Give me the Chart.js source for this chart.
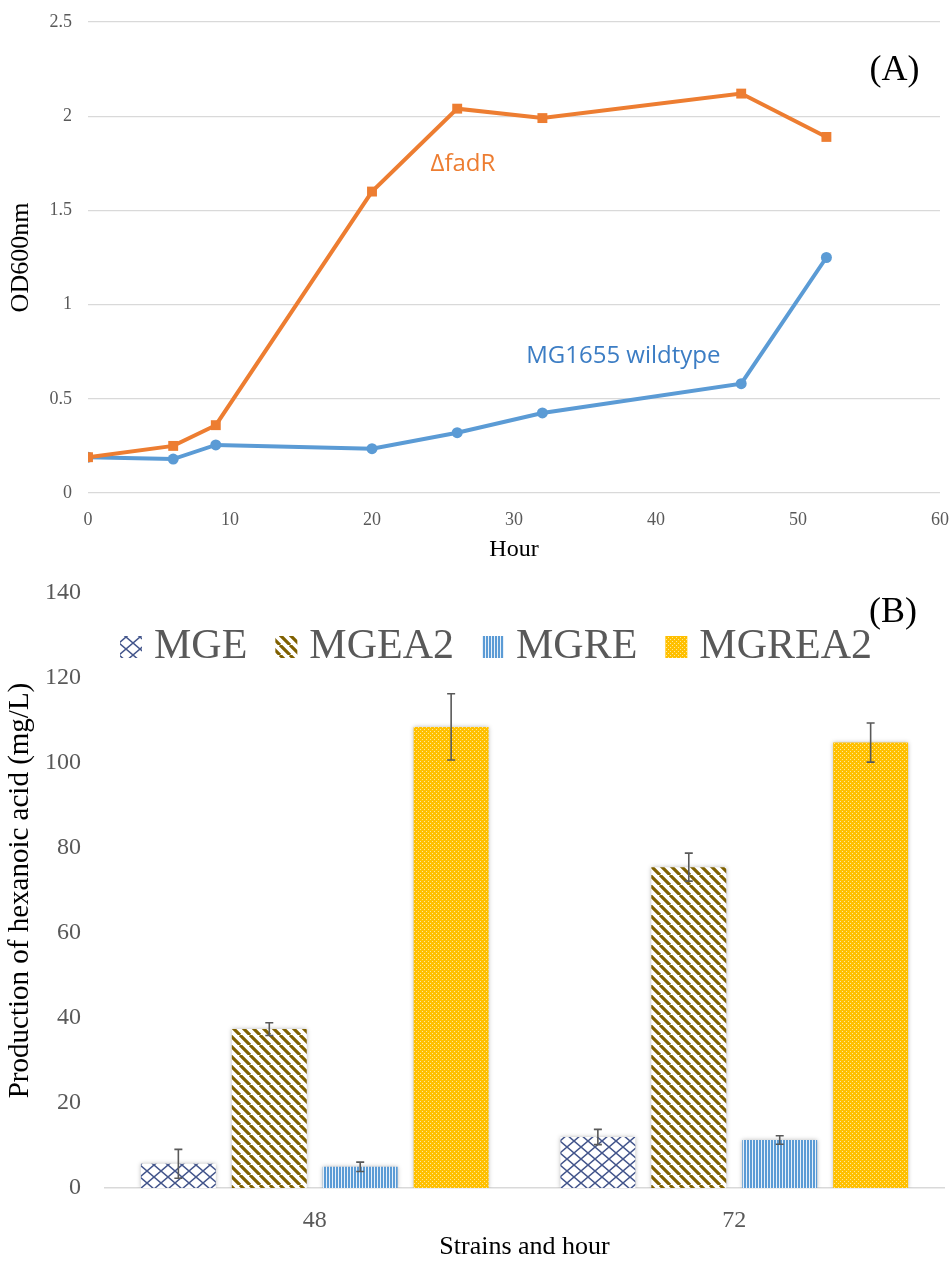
<!DOCTYPE html>
<html>
<head>
<meta charset="utf-8">
<script src="https://cdn.jsdelivr.net/npm/chart.js@4.4.1/dist/chart.umd.min.js"></script>
<style>
  html, body { margin: 0; padding: 0; background: #ffffff; }
  #growth { position: absolute; left: 0; top: 0; }
  #hexanoic { position: absolute; left: 0; top: 565px; }
</style>
</head>
<body>
<canvas id="growth" width="951" height="565"></canvas>
<canvas id="hexanoic" width="951" height="698"></canvas>
<script>
// ---- Panel A: growth curves (OD600nm vs hour) ----
const hours = [0, 6, 9, 20, 26, 32, 46, 52];
const fadR = [0.19, 0.25, 0.36, 1.60, 2.04, 1.99, 2.12, 1.89];
const wildtype = [0.19, 0.18, 0.255, 0.235, 0.32, 0.425, 0.58, 1.25];
const growthSeriesNames = ['\u0394fadR', 'MG1655 wildtype'];

// ---- Panel B: hexanoic acid production ----
const timepoints = ['48', '72'];
const strainNames = ['MGE', 'MGEA2', 'MGRE', 'MGREA2'];
const mge = [5.7, 12.0];
const mgeErr = [3.4, 1.8];
const mgea2 = [37.4, 75.5];
const mgea2Err = [1.5, 3.3];
const mgre = [5.0, 11.3];
const mgreErr = [1.1, 1.0];
const mgrea2 = [108.5, 104.8];
const mgrea2Err = [7.8, 4.6];

const SERIF = '"Liberation Serif", "Times New Roman", serif';
const SANS = '"Open Sans", "Noto Sans", sans-serif';
const GREY_TEXT = '#595959';
const GRID = '#d9d9d9';

// keep the plot box exactly where the layout padding puts it
function fixedBox(size, key) {
  return (s) => {
    s[key] = size;
    s.paddingTop = 0; s.paddingBottom = 0;
    s.paddingLeft = 0; s.paddingRight = 0;
  };
}

// Text labels placed in data coordinates on panel A
const growthLabels = {
  id: 'growthLabels',
  afterDatasetsDraw(chart) {
    const { ctx, scales: { x, y } } = chart;
    ctx.save();
    ctx.textAlign = 'center';
    ctx.textBaseline = 'middle';
    ctx.font = '24px ' + SANS;
    ctx.fillStyle = '#ED7D31';
    ctx.fillText(growthSeriesNames[0], x.getPixelForValue(26.4), y.getPixelForValue(1.745));
    ctx.fillStyle = '#3C7DC4';
    ctx.fillText(growthSeriesNames[1], x.getPixelForValue(37.7), y.getPixelForValue(0.727));
    ctx.font = '36px ' + SERIF;
    ctx.fillStyle = '#000000';
    ctx.fillText('(A)', x.getPixelForValue(56.8), y.getPixelForValue(2.24));
    ctx.restore();
  }
};

new Chart(document.getElementById('growth'), {
  type: 'line',
  data: {
    datasets: [
      {
        label: growthSeriesNames[0],
        data: hours.map((h, i) => ({ x: h, y: fadR[i] })),
        borderColor: '#ED7D31',
        backgroundColor: '#ED7D31',
        borderWidth: 4,
        pointStyle: 'rect',
        pointRadius: 7,
        pointBorderWidth: 0,
        tension: 0
      },
      {
        label: growthSeriesNames[1],
        data: hours.map((h, i) => ({ x: h, y: wildtype[i] })),
        borderColor: '#5B9BD5',
        backgroundColor: '#5B9BD5',
        borderWidth: 4,
        pointStyle: 'circle',
        pointRadius: 5.5,
        pointBorderWidth: 0,
        tension: 0
      }
    ]
  },
  options: {
    responsive: false,
    animation: false,
    layout: { padding: { left: 0, right: 11, top: 22, bottom: 0 } },
    plugins: { legend: { display: false }, tooltip: { enabled: false } },
    scales: {
      x: {
        type: 'linear',
        min: 0, max: 60,
        ticks: { stepSize: 10, color: GREY_TEXT, font: { family: SERIF, size: 18 }, padding: 8, maxRotation: 0 },
        grid: { display: false },
        border: { display: false },
        title: { display: true, text: 'Hour', color: '#000', font: { family: SERIF, size: 24 }, padding: { top: 0, bottom: 1 } },
        afterFit: fixedBox(72, 'height')
      },
      y: {
        min: 0, max: 2.5,
        ticks: {
          stepSize: 0.5, color: GREY_TEXT, font: { family: SERIF, size: 18 }, padding: 16,
          callback: (v) => String(Math.round(v * 10) / 10)
        },
        grid: { color: GRID, lineWidth: 1.2, drawTicks: false },
        border: { display: false },
        title: { display: true, text: 'OD600nm', color: '#000', font: { family: SERIF, size: 26 }, padding: { top: 6, bottom: 0 } },
        afterFit: fixedBox(88, 'width')
      }
    }
  },
  plugins: [growthLabels]
});

// ---- Fill patterns for the bars ----
const barCanvas = document.getElementById('hexanoic');
const bctx = barCanvas.getContext('2d');

function makePattern(w, h, paint) {
  const c = document.createElement('canvas');
  c.width = w; c.height = h;
  const g = c.getContext('2d');
  paint(g, w, h);
  return bctx.createPattern(c, 'repeat');
}

const crossHatch = makePattern(14, 12, (g, w, h) => {
  g.fillStyle = '#ffffff'; g.fillRect(0, 0, w, h);
  g.strokeStyle = '#44568C'; g.lineWidth = 1.5;
  g.beginPath();
  g.moveTo(0, 0); g.lineTo(w, h);
  g.moveTo(w, 0); g.lineTo(0, h);
  g.stroke();
});

const diagStripes = makePattern(10, 10, (g, w, h) => {
  g.fillStyle = '#ffffff'; g.fillRect(0, 0, w, h);
  g.strokeStyle = '#7F6000'; g.lineWidth = 3.2;
  g.beginPath();
  for (const k of [-10, 0, 10]) { g.moveTo(k, 0); g.lineTo(k + 10, 10); }
  g.stroke();
});

const vertLines = makePattern(3, 1, (g) => {
  g.fillStyle = '#5B9BD5'; g.fillRect(0, 0, 2, 1);
  g.fillStyle = '#e8f1fa'; g.fillRect(2, 0, 1, 1);
});

const dotted = makePattern(4, 4, (g) => {
  g.fillStyle = '#FFC000'; g.fillRect(0, 0, 4, 4);
  g.fillStyle = '#FFE699';
  g.fillRect(0, 0, 1, 1);
  g.fillRect(2, 2, 1, 1);
});

const fills = [crossHatch, diagStripes, vertLines, dotted];

// Soft shadow under the bars, error bars on top
const barDecor = {
  id: 'barDecor',
  beforeDatasetsDraw(chart) {
    const ctx = chart.ctx;
    ctx.save();
    ctx.shadowColor = 'rgba(0,0,0,0.28)';
    ctx.shadowBlur = 4;
    ctx.shadowOffsetX = 0;
    ctx.shadowOffsetY = 0;
  },
  afterDatasetsDraw(chart) {
    const ctx = chart.ctx;
    ctx.restore();
    const y = chart.scales.y;
    ctx.save();
    ctx.strokeStyle = '#595959';
    ctx.lineWidth = 1.6;
    chart.data.datasets.forEach((ds, i) => {
      const meta = chart.getDatasetMeta(i);
      meta.data.forEach((bar, j) => {
        const v = ds.data[j], e = ds.errors[j];
        const top = y.getPixelForValue(v + e);
        const bot = y.getPixelForValue(v - e);
        ctx.beginPath();
        ctx.moveTo(bar.x, top); ctx.lineTo(bar.x, bot);
        ctx.moveTo(bar.x - 4, top); ctx.lineTo(bar.x + 4, top);
        ctx.moveTo(bar.x - 4, bot); ctx.lineTo(bar.x + 4, bot);
        ctx.stroke();
      });
    });
    ctx.restore();
  },
  afterDraw(chart) {
    // legend row inside the plot area, plus panel tag
    const ctx = chart.ctx;
    ctx.save();
    ctx.font = '42px ' + SERIF;
    ctx.textBaseline = 'alphabetic';
    let xPos = 120;
    const base = 93;
    chart.data.datasets.forEach((ds) => {
      ctx.fillStyle = ds.backgroundColor;
      ctx.fillRect(xPos, base - 22, 22, 22);
      xPos += 22 + 12;
      ctx.fillStyle = GREY_TEXT;
      ctx.textAlign = 'left';
      ctx.fillText(ds.label, xPos, base);
      xPos += ctx.measureText(ds.label).width + 28;
    });
    ctx.font = '36px ' + SERIF;
    ctx.fillStyle = '#000';
    ctx.textAlign = 'center';
    ctx.textBaseline = 'middle';
    ctx.fillText('(B)', chart.chartArea.right - 51, 48);
    ctx.restore();
  }
};

const values = [mge, mgea2, mgre, mgrea2];
const errors = [mgeErr, mgea2Err, mgreErr, mgrea2Err];

new Chart(barCanvas, {
  type: 'bar',
  data: {
    labels: timepoints,
    datasets: strainNames.map((name, i) => ({
      label: name,
      data: values[i],
      errors: errors[i],
      backgroundColor: fills[i],
      borderWidth: 0,
      categoryPercentage: 0.867,
      barPercentage: 0.824
    }))
  },
  options: {
    responsive: false,
    animation: false,
    layout: { padding: { left: 0, right: 7, top: 28, bottom: 0 } },
    plugins: { legend: { display: false }, tooltip: { enabled: false } },
    scales: {
      x: {
        ticks: { color: GREY_TEXT, font: { family: SERIF, size: 24 }, padding: 10 },
        grid: { display: false },
        border: { display: true, color: GRID, width: 1.5 },
        title: { display: true, text: 'Strains and hour', color: '#000', font: { family: SERIF, size: 26 }, padding: { top: 0, bottom: 0 } },
        afterFit: fixedBox(75, 'height')
      },
      y: {
        min: 0, max: 140,
        ticks: { stepSize: 20, color: GREY_TEXT, font: { family: SERIF, size: 24 }, padding: 24 },
        grid: { display: false, drawTicks: false },
        border: { display: false },
        title: { display: true, text: 'Production of hexanoic acid (mg/L)', color: '#000', font: { family: SERIF, size: 29 }, padding: { top: 3, bottom: 0 } },
        afterFit: fixedBox(105, 'width')
      }
    }
  },
  plugins: [barDecor]
});
</script>
</body>
</html>
